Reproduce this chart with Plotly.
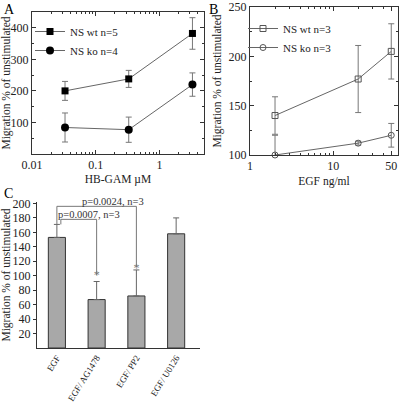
import plotly.graph_objects as go

# Panel A data
hbgam_conc = [0.033, 0.33, 3.3]
a_wt = [200, 238, 382]
a_wt_err = [30, 27, 50]
a_ko = [84, 77, 220]
a_ko_err = [46, 40, 37]

# Panel B data
egf_conc = [2, 20, 50]
b_wt = [140, 177, 205]
b_wt_err = [19, 34, 28]
b_ko = [100, 112, 120]
b_ko_err = [20, 2, 12]

# Panel C data
c_labels = ["EGF", "EGF/ AG1478", "EGF/ PP2", "EGF/ U0126"]
c_pos = [0, 1, 2, 3]
c_vals = [153, 67, 72, 158]
c_err = [18, 25, 36, 22]
c_star_y = [None, 99, 110, None]
p_texts = ["p=0.0024, n=3", "p=0.0007, n=3"]

FONT = "Liberation Serif"
AX = "#333333"

fig = go.Figure()

# ---- Panel A
fig.add_trace(go.Scatter(x=hbgam_conc, y=a_wt, mode="lines+markers", name="NS wt n=5",
    marker=dict(symbol="square", size=7, color="black"),
    line=dict(color="#666666", width=1),
    error_y=dict(type="data", array=a_wt_err, color="#777777", thickness=1, width=3),
    xaxis="x", yaxis="y", legend="legend"))
fig.add_trace(go.Scatter(x=hbgam_conc, y=a_ko, mode="lines+markers", name="NS ko n=4",
    marker=dict(symbol="circle", size=8, color="black"),
    line=dict(color="#666666", width=1),
    error_y=dict(type="data", array=a_ko_err, color="#777777", thickness=1, width=3),
    xaxis="x", yaxis="y", legend="legend"))

# ---- Panel B
fig.add_trace(go.Scatter(x=egf_conc, y=b_wt, mode="lines+markers", name="NS wt n=3",
    marker=dict(symbol="square-open", size=6, color="#555555", line=dict(width=1)),
    line=dict(color="#666666", width=1), cliponaxis=False,
    error_y=dict(type="data", array=b_wt_err, color="#777777", thickness=1, width=3),
    xaxis="x2", yaxis="y2", legend="legend2"))
fig.add_trace(go.Scatter(x=egf_conc, y=b_ko, mode="lines+markers", name="NS ko n=3",
    marker=dict(symbol="circle-open", size=6, color="#555555", line=dict(width=1)),
    line=dict(color="#666666", width=1), cliponaxis=False,
    error_y=dict(type="data", array=b_ko_err, color="#777777", thickness=1, width=3),
    xaxis="x2", yaxis="y2", legend="legend2"))

# ---- Panel C
fig.add_trace(go.Bar(x=c_pos, y=c_vals, width=0.43, showlegend=False,
    marker=dict(color="#a8a8a8", line=dict(color="#333333", width=1)),
    error_y=dict(type="data", array=c_err, arrayminus=[0, 0, 0, 0], color="#666666",
                 thickness=1, width=3),
    xaxis="x3", yaxis="y3"))
star_x = [p for p, s in zip(c_pos, c_star_y) if s is not None]
star_y = [s for s in c_star_y if s is not None]
fig.add_trace(go.Scatter(x=star_x, y=star_y, mode="text", text=["*"] * len(star_x),
    textfont=dict(family=FONT, size=12, color="#777777"), showlegend=False,
    xaxis="x3", yaxis="y3"))

# brackets
brackets = [
    dict(x0=0, x1=2, y=196, yl=171, yr=112),
    dict(x0=0.1, x1=1, y=178, yl=171, yr=101),
]
shapes = []
for b in brackets:
    for (xa, ya, xb, yb) in [(b["x0"], b["y"], b["x1"], b["y"]),
                             (b["x0"], b["y"], b["x0"], b["yl"]),
                             (b["x1"], b["y"], b["x1"], b["yr"])]:
        shapes.append(dict(type="line", xref="x3", yref="y3", x0=xa, y0=ya, x1=xb, y1=yb,
                           line=dict(color="#777777", width=1)))

annotations = [
    dict(text="A", x=2 / 400, y=1.0, xref="paper", yref="paper", xanchor="left", yanchor="top",
         showarrow=False, font=dict(family=FONT, size=14, color="black")),
    dict(text="B", x=207 / 400, y=1.0, xref="paper", yref="paper", xanchor="left", yanchor="top",
         showarrow=False, font=dict(family=FONT, size=14, color="black")),
    dict(text="C", x=2 / 400, y=1 - 184 / 403, xref="paper", yref="paper", xanchor="left", yanchor="top",
         showarrow=False, font=dict(family=FONT, size=14, color="black")),
    dict(text=p_texts[0], x=1.41, y=197, xref="x3", yref="y3", yanchor="bottom", showarrow=False,
         font=dict(family=FONT, size=10.5, color="#333333"), yshift=-3),
    dict(text=p_texts[1], x=0.8, y=179, xref="x3", yref="y3", yanchor="bottom", showarrow=False,
         font=dict(family=FONT, size=10.5, color="#333333"), yshift=-3),
]

tickfont = dict(family=FONT, size=12, color="#222222")
titlefont = dict(family=FONT, size=11.5, color="#222222")

fig.update_layout(
    width=400, height=403, margin=dict(l=0, r=0, t=0, b=0, autoexpand=False),
    paper_bgcolor="white", plot_bgcolor="white",
    font=dict(family=FONT, color="#222222"),
    shapes=shapes, annotations=annotations,
    xaxis=dict(type="log", domain=[32 / 400, 204 / 400], range=[-2, 0.7], automargin=False,
               anchor="y", showline=True, linecolor=AX, linewidth=1, mirror="ticks",
               ticks="inside", ticklen=4, tickcolor=AX, tickvals=[0.01, 0.1, 1],
               ticktext=["0.01", "0.1", "1"], tickfont=tickfont, showgrid=False, zeroline=False,
               minor=dict(ticks="inside", ticklen=2, tickcolor=AX,
                          tickvals=[0.02, 0.03, 0.04, 0.05, 0.06, 0.07, 0.08, 0.09,
                                    0.2, 0.3, 0.4, 0.5, 0.6, 0.7, 0.8, 0.9, 2, 3, 4, 5]),
               title=dict(text="HB-GAM µM", font=titlefont, standoff=3)),
    yaxis=dict(domain=[1 - 154 / 403, 1 - 12 / 403], range=[0, 450], anchor="x", automargin=False,
               showline=True, linecolor=AX, linewidth=1, mirror="ticks",
               ticks="inside", ticklen=4, tickcolor=AX, tickvals=[100, 200, 300, 400],
               tickfont=tickfont, showgrid=False, zeroline=False,
               minor=dict(ticks="inside", ticklen=2, tickcolor=AX, dtick=50),
               title=dict(text="Migration % of unstimulated", font=titlefont, standoff=4)),
    xaxis2=dict(type="log", domain=[250 / 400, 398 / 400], range=[0, 1.78], automargin=False,
                anchor="y2", showline=True, linecolor=AX, linewidth=1, mirror="ticks",
                ticks="inside", ticklen=4, tickcolor=AX, tickvals=[1, 10, 50],
                ticktext=["1", "10", "50"], tickfont=tickfont, showgrid=False, zeroline=False,
                minor=dict(ticks="inside", ticklen=2, tickcolor=AX,
                           tickvals=[2, 3, 4, 5, 6, 7, 8, 9, 20, 30, 40]),
                title=dict(text="EGF ng/ml", font=titlefont, standoff=4)),
    yaxis2=dict(domain=[1 - 155 / 403, 1 - 7 / 403], range=[100, 250], anchor="x2", automargin=False,
                showline=True, linecolor=AX, linewidth=1, mirror="ticks",
                ticks="inside", ticklen=4, tickcolor=AX, tickvals=[100, 150, 200, 250],
                tickfont=tickfont, showgrid=False, zeroline=False,
                minor=dict(ticks="inside", ticklen=2, tickcolor=AX, dtick=25),
                title=dict(text="Migration % of unstimulated", font=titlefont, standoff=4)),
    xaxis3=dict(domain=[37 / 400, 200 / 400], range=[-0.5, 3.6], anchor="y3", automargin=False,
                showline=True, linecolor=AX, linewidth=1, ticks="", tickangle=-58,
                tickvals=c_pos, ticktext=c_labels, showgrid=False, zeroline=False,
                tickfont=dict(family=FONT, size=9, color="#222222")),
    yaxis3=dict(domain=[1 - 348 / 403, 1 - 202 / 403], range=[0, 202], anchor="x3", automargin=False,
                showline=True, linecolor=AX, linewidth=1, ticks="outside", ticklen=3,
                tickcolor=AX, tickvals=list(range(20, 201, 20)), tickfont=tickfont,
                showgrid=False, zeroline=False,
                title=dict(text="Migration % of unstimulated", font=titlefont, standoff=4)),
    legend=dict(x=30 / 400, y=1 - 17 / 403, xanchor="left", yanchor="top",
                bgcolor="rgba(0,0,0,0)", font=dict(family=FONT, size=11, color="#222222"),
                tracegroupgap=0, itemwidth=30),
    legend2=dict(x=243 / 400, y=1 - 14 / 403, xanchor="left", yanchor="top",
                 bgcolor="rgba(0,0,0,0)", font=dict(family=FONT, size=11, color="#222222"),
                 tracegroupgap=0, itemwidth=30),
)

fig.write_html("out.html", config={"displayModeBar": False},
               post_script="document.body.style.margin='0';document.body.style.overflow='hidden';")
